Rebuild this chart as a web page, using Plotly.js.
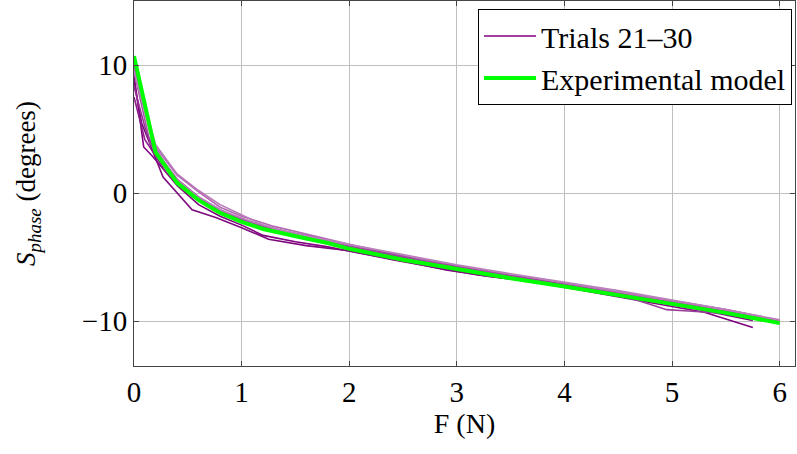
<!DOCTYPE html>
<html>
<head>
<meta charset="utf-8">
<script src="https://cdn.plot.ly/plotly-3.0.1.min.js"></script>
<style>html,body{margin:0;padding:0;background:#fff;}#chart{width:797px;height:454px;}</style>
</head>
<body>
<div id="chart"></div>
<script>
// Experimental model
const modelF = [0, 0.2, 0.4, 0.6, 0.8, 1.0, 1.2, 1.4, 1.6, 1.8, 2.0, 2.5, 3.0, 3.5, 4.0, 4.5, 5.0, 5.5, 6.0];
const modelS = [10.7, 3.2, 0.8, -0.55, -1.55, -2.25, -2.8, -3.2, -3.55, -3.9, -4.35, -5.2, -5.95, -6.65, -7.3, -7.95, -8.65, -9.35, -10.15];

// Trials 21-30
const trial21F = [0, 0.09, 0.18, 0.4, 0.6, 0.8, 1.0, 1.2, 1.5, 1.8, 2.1, 2.5, 2.9, 3.3, 3.7, 4.1, 4.5, 4.9, 5.3, 5.75];
const trial21S = [9.2, 3.6, 2.8, 0.6, -0.9, -1.8, -2.5, -3.3, -3.8, -4.2, -4.7, -5.3, -6.0, -6.5, -6.9, -7.5, -8.1, -8.7, -9.3, -10.5];
const trial22F = [0, 0.07, 0.27, 0.39, 0.54, 0.76, 1.0, 1.25, 1.6, 2.0, 2.4, 2.8, 3.2, 3.6, 4.0, 4.4, 4.8, 5.2, 5.75];
const trial22S = [8.8, 5.5, 1.25, 0.1, -1.3, -1.9, -2.7, -3.6, -4.1, -4.5, -5.2, -5.8, -6.4, -6.8, -7.3, -7.8, -8.4, -9.0, -9.95];
const trial23F = [0, 0.2, 0.4, 0.6, 0.8, 1.0, 1.3, 1.6, 2.0, 2.5, 3.0, 3.5, 4.0, 4.5, 5.0, 5.5, 6.0];
const trial23S = [9.8, 3.6, 1.4, 0.1, -1.1, -1.8, -2.6, -3.2, -4.0, -4.9, -5.7, -6.4, -7.0, -7.7, -8.4, -9.1, -9.95];
const trial24F = [0, 0.15, 0.35, 0.55, 0.75, 1.0, 1.3, 1.65, 2.0, 2.5, 3.0, 3.5, 4.0, 4.5, 5.0, 5.5, 6.0];
const trial24S = [9.5, 3.9, 1.3, -0.1, -1.2, -2.0, -2.8, -3.4, -4.1, -5.0, -5.8, -6.5, -7.1, -7.8, -8.5, -9.2, -10.0];
const trial25F = [0, 0.2, 0.4, 0.6, 0.8, 1.0, 1.2, 1.5, 1.8, 2.2, 2.6, 3.0, 3.5, 4.0, 4.5, 4.8, 4.95, 5.15, 5.5, 6.0];
const trial25S = [10.2, 3.4, 0.9, -0.4, -1.4, -2.1, -2.7, -3.3, -3.8, -4.5, -5.1, -5.8, -6.5, -7.2, -7.9, -8.7, -9.1, -9.2, -9.4, -10.1];
const trial26F = [0, 0.1, 0.3, 0.5, 0.7, 0.95, 1.2, 1.5, 1.8, 2.2, 2.6, 3.0, 3.4, 3.8, 4.2, 4.6, 5.0, 5.4, 6.0];
const trial26S = [7.5, 4.2, 1.6, 0.0, -1.1, -2.0, -2.7, -3.3, -3.8, -4.5, -5.1, -5.7, -6.3, -6.9, -7.5, -8.1, -8.7, -9.2, -10.05];
const trial27F = [0, 0.2, 0.4, 0.6, 0.8, 1.0, 1.2, 1.6, 2.0, 2.5, 3.0, 3.5, 4.0, 4.5, 5.0, 5.5, 6.0];
const trial27S = [9.9, 3.8, 1.5, 0.2, -0.9, -1.7, -2.5, -3.4, -4.1, -4.9, -5.7, -6.4, -7.0, -7.7, -8.4, -9.1, -9.9];
const trial28F = [0, 0.12, 0.25, 0.45, 0.65, 0.85, 1.1, 1.4, 1.7, 2.0, 2.4, 2.8, 3.2, 3.6, 4.0, 4.5, 5.0, 5.5, 6.0];
const trial28S = [8.3, 4.6, 2.4, 0.6, -0.7, -1.6, -2.4, -3.1, -3.7, -4.2, -4.9, -5.5, -6.1, -6.6, -7.2, -7.9, -8.6, -9.3, -10.0];
const trial29F = [0, 0.2, 0.4, 0.6, 0.8, 1.0, 1.3, 1.6, 1.9, 2.3, 2.7, 3.1, 3.5, 4.0, 4.5, 5.0, 5.5, 6.0];
const trial29S = [10.0, 3.3, 1.1, -0.3, -1.3, -2.1, -2.9, -3.5, -4.0, -4.6, -5.3, -5.9, -6.5, -7.2, -7.9, -8.6, -9.3, -10.1];
const trial30F = [0, 0.18, 0.38, 0.58, 0.8, 1.05, 1.35, 1.7, 2.05, 2.5, 3.0, 3.5, 4.0, 4.5, 5.0, 5.5, 6.0];
const trial30S = [9.6, 3.7, 1.2, -0.2, -1.3, -2.1, -2.9, -3.5, -4.1, -4.8, -5.6, -6.3, -6.95, -7.6, -8.35, -9.1, -9.95];

const trialFs = [trial21F, trial22F, trial23F, trial24F, trial25F, trial26F, trial27F, trial28F, trial29F, trial30F];
const trialSs = [trial21S, trial22S, trial23S, trial24S, trial25S, trial26S, trial27S, trial28S, trial29S, trial30S];
const trialColors = ["#800080", "#7f0a7f", "#b36ab3", "#a855a8", "#9a3f9a", "#8c1f8c", "#b978b9", "#953395", "#a04aa0", "#bb80bb"];

const traces = [];
trialFs.forEach((f, i) => {
  traces.push({
    x: f, y: trialSs[i], type: 'scatter', mode: 'lines',
    name: 'Trials 21–30', legendgroup: 'trials', showlegend: i === 0,
    line: {color: trialColors[i], width: 1.6},
    hoverinfo: 'skip'
  });
});
traces.push({
  x: modelF, y: modelS, type: 'scatter', mode: 'lines',
  name: 'Experimental model',
  line: {color: '#00ff00', width: 4}
});

const fontFam = 'Liberation Serif';
const layout = {
  width: 797, height: 454,
  margin: {l: 133.5, r: 2, t: 1, b: 88},
  paper_bgcolor: '#ffffff', plot_bgcolor: '#ffffff',
  font: {family: fontFam, size: 28, color: '#000'},
  showlegend: true,
  legend: {
    x: 0.9955, xanchor: 'right', y: 0.978, yanchor: 'top',
    bordercolor: '#000', borderwidth: 1, bgcolor: '#fff',
    font: {family: fontFam, size: 30, color: '#000'},
    itemwidth: 52,
    tracegroupgap: 0
  },
  xaxis: {
    range: [0, 6.142], tickvals: [0,1,2,3,4,5,6], ticktext: ['0','1','2','3','4','5','6'],
    showgrid: true, gridcolor: '#bfbfbf', gridwidth: 1,
    zeroline: false, showline: true, linecolor: '#444', linewidth: 1, mirror: 'ticks',
    ticks: 'inside', ticklen: 5, tickcolor: '#444',
    tickfont: {family: fontFam, size: 29, color: '#000'},
    title: {text: 'F (N)', font: {family: fontFam, size: 28, color: '#000'}, standoff: 6}
  },
  yaxis: {
    range: [-13.5, 15.0], tickvals: [-10, 0, 10], ticktext: ['−10', '0', '10'],
    showgrid: true, gridcolor: '#bfbfbf', gridwidth: 1,
    zeroline: false, showline: true, linecolor: '#444', linewidth: 1, mirror: 'ticks',
    ticks: 'inside', ticklen: 5, tickcolor: '#444',
    tickfont: {family: fontFam, size: 29, color: '#000'},
    title: {text: '<i>S</i><sub><i>phase</i></sub> (degrees)', font: {family: fontFam, size: 27, color: '#000'}, standoff: 38}
  }
};

Plotly.newPlot('chart', traces, layout, {displayModeBar: false, staticPlot: true});
</script>
</body>
</html>
